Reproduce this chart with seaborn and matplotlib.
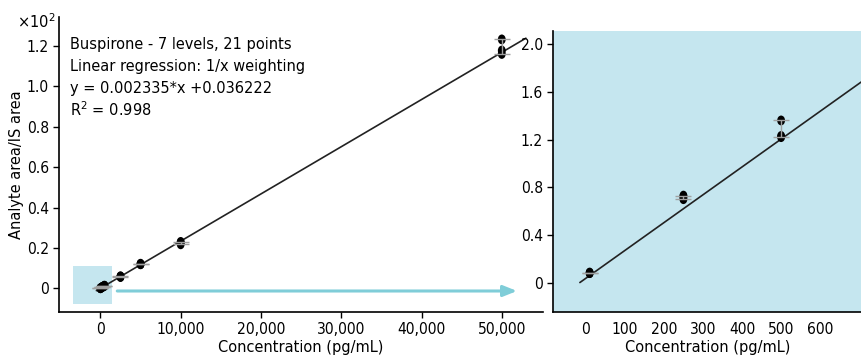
import numpy as np
import pandas as pd
import matplotlib
matplotlib.use("Agg")
import matplotlib.pyplot as plt
from matplotlib.patches import Rectangle
from matplotlib.path import Path
from matplotlib.transforms import Affine2D
from matplotlib.ticker import FuncFormatter
import seaborn as sns

# Calibration levels (pg/mL) and triplicate area ratios (analyte / IS)
levels = [10, 250, 500, 2500, 5000, 10000, 50000]
rep1 = [0.080, 0.700, 1.220, 5.60, 11.90, 21.80, 116.0]
rep2 = [0.080, 0.720, 1.230, 5.80, 12.00, 22.60, 117.7]
rep3 = [0.085, 0.730, 1.360, 6.00, 12.20, 23.00, 123.2]

# Weighted (1/x) linear fit
slope = 0.002335
intercept = 0.036222
r_squared = 0.998

title_lines = [
    "Buspirone - 7 levels, 21 points",
    "Linear regression: 1/x weighting",
    f"y = {slope:.6f}*x +{intercept:.6f}",
    f"R$^2$ = {r_squared:.3f}",
]
left_scale = 100.0  # left panel is shown in units of 10^2

FS = 11.7      # annotation and axis-label size
TICK_FS = 11.2 # tick label size
sns.set_style("ticks")
plt.rcParams["font.family"] = ["DejaVu Sans"]
plt.rcParams["font.stretch"] = "condensed"
plt.rcParams["font.size"] = FS
plt.rcParams["text.color"] = "black"
plt.rcParams["axes.labelcolor"] = "black"

df = pd.DataFrame({
    "conc": np.repeat(levels, 3),
    "ratio": np.ravel(np.column_stack([rep1, rep2, rep3])),
})
summary = df.groupby("conc")["ratio"].agg(["min", "max", "mean"]).reset_index()

# Upright oval marker
oval = Path.unit_circle().transformed(Affine2D().scale(0.8, 1.0))

fig = plt.figure(figsize=(8.62, 3.6), dpi=100)
axL = fig.add_axes([0.069, 0.1333, 0.5606, 0.819])
axR = fig.add_axes([0.6419, 0.1333, 0.3581, 0.7806])

blue_fill = "#c5e6ef"
arrow_col = "#7fcdd8"
bar_col = "#a0a0a0"
line_col = "#222222"


def draw_panel(ax, data, summ, scale, x0, x1):
    xs = np.array([x0, x1])
    fit = pd.DataFrame({"conc": xs, "ratio": (slope * xs + intercept) / scale})
    sns.lineplot(data=fit, x="conc", y="ratio", ax=ax, color=line_col,
                 lw=1.2, zorder=3)
    lo = summ["min"] / scale
    hi = summ["max"] / scale
    mid = (lo + hi) / 2
    ax.errorbar(summ["conc"], mid, yerr=[mid - lo, hi - mid], fmt="none",
                ecolor=bar_col, elinewidth=1.0, capsize=5.5, capthick=1.0,
                zorder=6)
    pts = data.assign(ratio=data["ratio"] / scale)
    sns.scatterplot(data=pts, x="conc", y="ratio", ax=ax, color="black",
                    marker=oval, s=50, edgecolor="none", zorder=5, legend=False)


def ratio_fmt(v, p):
    return "0" if abs(v) < 1e-9 else f"{v:.1f}"


# Left panel: full calibration range
axL.add_patch(Rectangle((-3400, -0.078), 4800, 0.19, facecolor=blue_fill,
                        edgecolor="none", zorder=1))
draw_panel(axL, df, summary, left_scale, -500, 53000)
axL.set_xlim(-5100, 55100)
axL.set_ylim(-0.117, 1.342)
axL.set_xticks([0, 10000, 20000, 30000, 40000, 50000])
axL.xaxis.set_major_formatter(FuncFormatter(lambda v, p: f"{int(v):,}"))
axL.set_yticks([0, 0.2, 0.4, 0.6, 0.8, 1.0, 1.2])
axL.yaxis.set_major_formatter(FuncFormatter(ratio_fmt))
axL.set_xlabel("Concentration (pg/mL)", fontsize=FS, labelpad=2)
axL.set_ylabel("Analyte area/IS area", fontsize=FS)
axL.yaxis.set_label_coords(-0.0735, 0.5)
sns.despine(ax=axL)
axL.annotate("", xy=(51900, -0.013), xytext=(2100, -0.013),
             arrowprops=dict(arrowstyle="-|>,head_length=0.7,head_width=0.28",
                             color=arrow_col, lw=2.2, shrinkA=0, shrinkB=0),
             zorder=2)

# Right panel: low-concentration zoom
axR.set_facecolor(blue_fill)
draw_panel(axR, df[df["conc"] <= 500], summary[summary["conc"] <= 500], 1.0, -15, 720)
axR.set_xlim(-83, 707)
axR.set_ylim(-0.246, 2.11)
axR.set_xticks([0, 100, 200, 300, 400, 500, 600])
axR.set_yticks([0, 0.4, 0.8, 1.2, 1.6, 2.0])
axR.yaxis.set_major_formatter(FuncFormatter(ratio_fmt))
axR.set_xlabel("Concentration (pg/mL)", fontsize=FS, labelpad=2)
axR.set_ylabel("")
sns.despine(ax=axR)

for ax in (axL, axR):
    ax.tick_params(labelsize=TICK_FS, width=1.0, length=4, colors="black")
    ax.tick_params(axis="x", pad=3)
    for s in ("left", "bottom"):
        ax.spines[s].set_linewidth(1.2)
        ax.spines[s].set_color("black")
axR.tick_params(axis="x", length=0, pad=7)

fig.text(55 / 862, 1 - 22 / 360, "×10$^2$", ha="right", va="center", fontsize=FS)
for i, line in enumerate(title_lines):
    fig.text(70.5 / 862, 1 - (44 + 22 * i) / 360, line, ha="left", va="center",
             fontsize=FS)

fig.savefig("out.png", dpi=100)
